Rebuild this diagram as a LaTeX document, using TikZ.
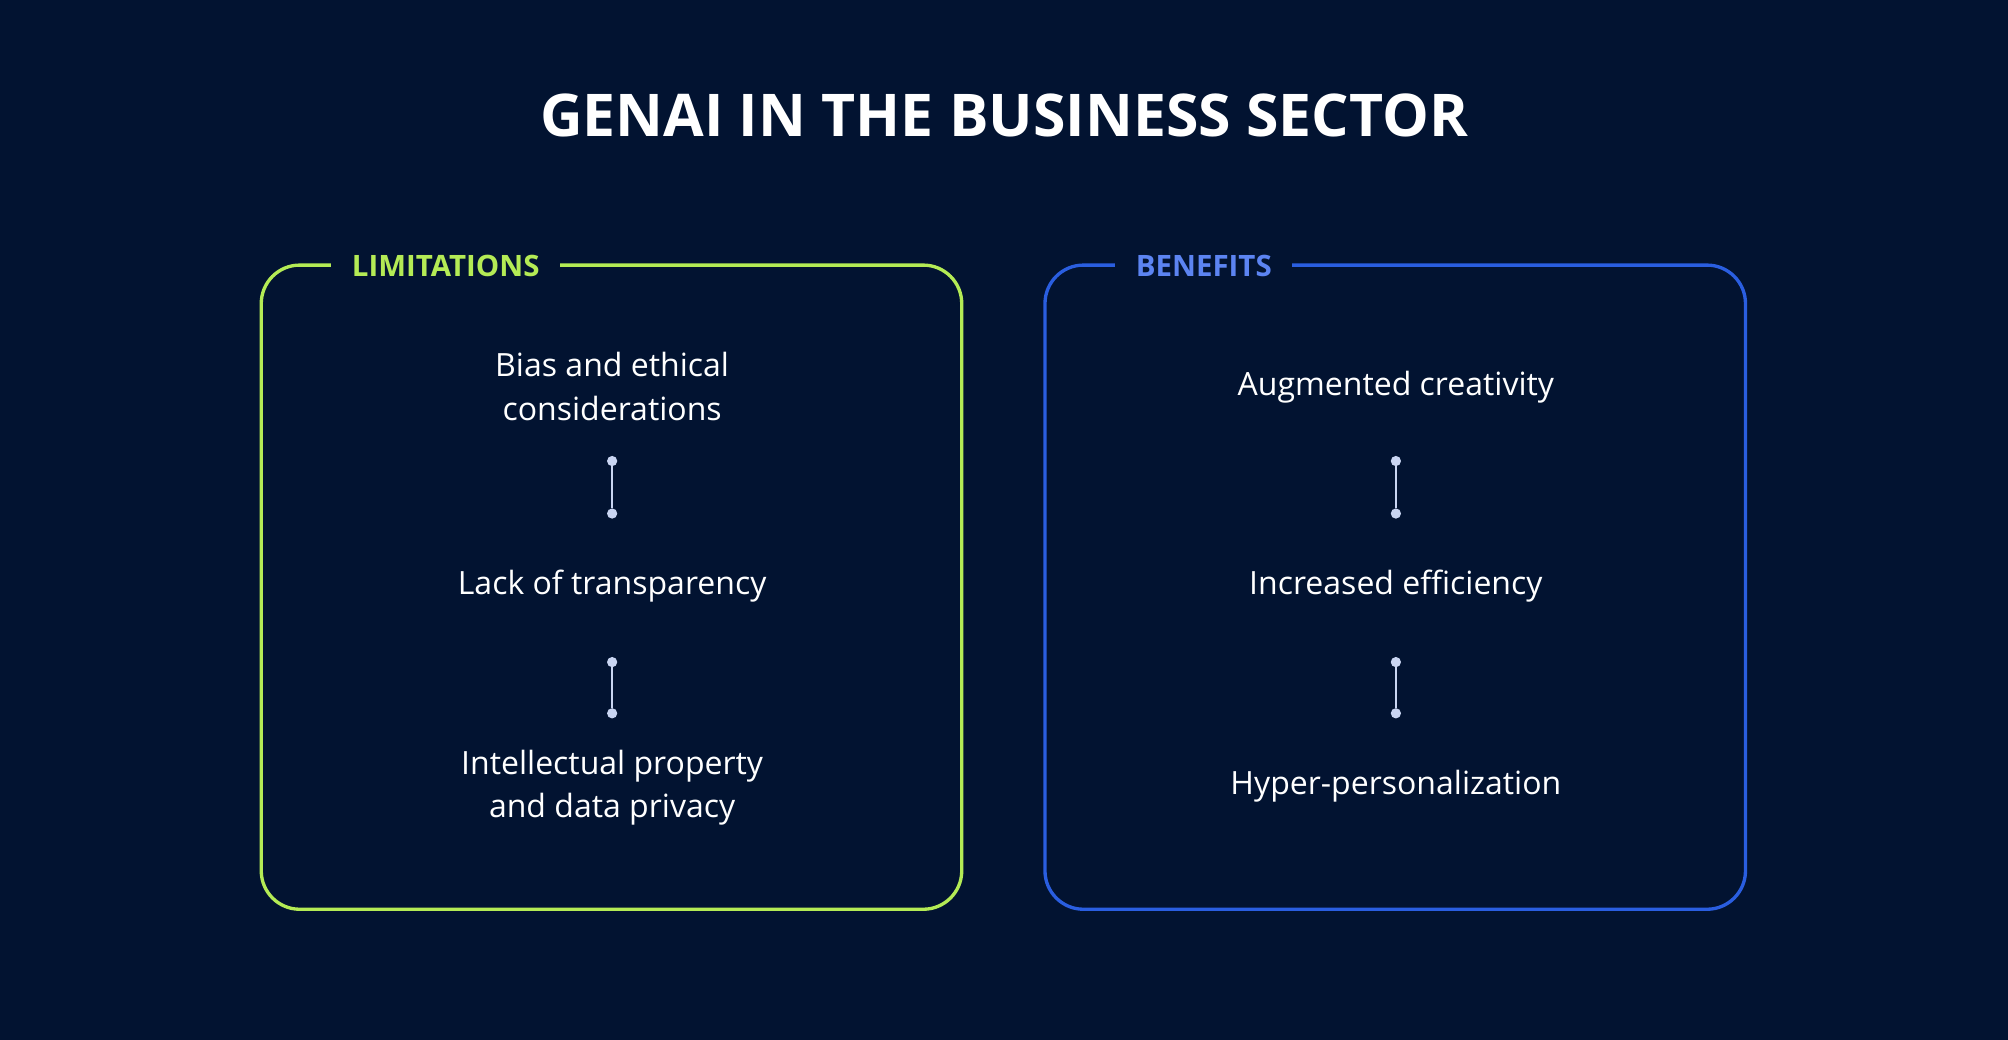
\documentclass[tikz,border=0pt]{standalone}
\usepackage{fontspec}
\setmainfont{Open Sans}
\definecolor{bg}{HTML}{021331}
\definecolor{lime}{HTML}{B4EB55}
\definecolor{bblue}{HTML}{2A5EE0}
\definecolor{lblue}{HTML}{5C84F2}
\definecolor{dotc}{HTML}{C9D5F2}
\begin{document}
\begin{tikzpicture}[x=1pt,y=-1pt,
  panel/.style={line width=2.6pt,rounded corners=30pt},
  item/.style={text=white,align=center,font=\fontsize{25}{34}\selectfont},
  tag/.style={font=\fontsize{23}{28}\selectfont\bfseries,fill=bg,inner xsep=16pt},
  dotpt/.style={circle,fill=dotc,inner sep=0pt,minimum size=8pt},
  link/.style={draw=dotc,line width=1.2pt}]
\fill[bg] (0,0) rectangle (1568,812);
\node[text=white,font=\fontsize{46}{50}\selectfont\bfseries] (title) at (784,90) {GENAI IN THE BUSINESS SECTOR};
\draw[panel,draw=lime] (204,207) rectangle (751,710);
\draw[panel,draw=bblue] (816,207) rectangle (1363,710);
\node[tag,text=lime] (lim) at (348,208) {LIMITATIONS};
\node[tag,text=lblue] (ben) at (940,208) {BENEFITS};
\node[item] (l1) at (478,302) {Bias and ethical\\considerations};
\node[item] (l2) at (478,458) {Lack of transparency};
\node[item] (l3) at (478,615) {Intellectual property\\and data privacy};
\node[item] (r1) at (1090,302) {Augmented creativity};
\node[item] (r2) at (1090,458) {Increased efficiency};
\node[item] (r3) at (1090,614) {Hyper-personalization};
\foreach \x/\n in {478/l,1090/r}{
  \node[dotpt] (\n a) at (\x,360) {};
  \node[dotpt] (\n b) at (\x,401) {};
  \node[dotpt] (\n c) at (\x,517) {};
  \node[dotpt] (\n d) at (\x,557) {};
  \draw[link] (\n a) -- (\n b);
  \draw[link] (\n c) -- (\n d);
}
\end{tikzpicture}
\end{document}
